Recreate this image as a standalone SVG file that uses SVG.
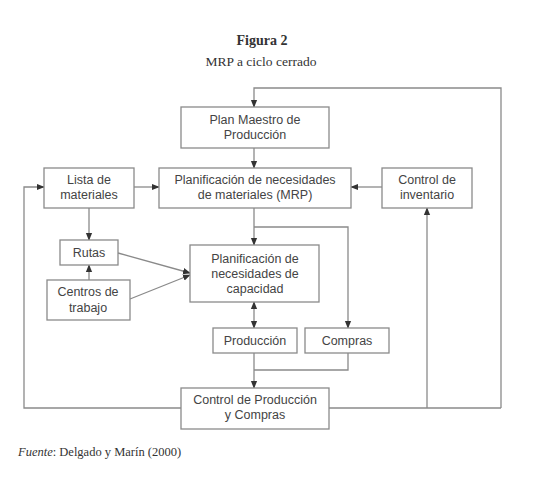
<svg xmlns="http://www.w3.org/2000/svg" width="539" height="480" viewBox="0 0 539 480">
<defs>
<style>
.box{fill:#fff;stroke:#8a8a8a;stroke-width:1.3}
.t{font-family:"Liberation Sans",Arial,sans-serif;font-size:12.5px;fill:#444;text-anchor:middle}
.c{fill:none;stroke:#8a8a8a;stroke-width:1.3}
.ser{font-family:"Liberation Serif","Times New Roman",serif;fill:#333}
</style>
<marker id="a" viewBox="0 0 10 10" refX="9" refY="5" markerWidth="6" markerHeight="6" orient="auto-start-reverse">
<path d="M0,1 L10,5 L0,9 z" fill="#333"/>
</marker>
</defs>
<rect width="539" height="480" fill="#fff"/>
<text class="ser" x="262" y="45" font-size="14" font-weight="bold" text-anchor="middle">Figura 2</text>
<text class="ser" x="261" y="66" font-size="13.5" text-anchor="middle">MRP a ciclo cerrado</text>
<g id="connectors">
<path class="c" d="M501,408 V88 H254 V107" marker-end="url(#a)"/>
<path class="c" d="M254,148 V168" marker-end="url(#a)"/>
<path class="c" d="M134,187 H159" marker-end="url(#a)"/>
<path class="c" d="M382,187 H351" marker-end="url(#a)"/>
<path class="c" d="M254,208 V245" marker-end="url(#a)"/>
<path class="c" d="M254,227 H348 V328" marker-end="url(#a)"/>
<path class="c" d="M89,208 V240" marker-end="url(#a)"/>
<path class="c" d="M89,280 V265" marker-end="url(#a)"/>
<path class="c" d="M118,253 L190,273" marker-end="url(#a)"/>
<path class="c" d="M130,299 L190,275" marker-end="url(#a)"/>
<path class="c" d="M254,302 V328" marker-start="url(#a)" marker-end="url(#a)"/>
<path class="c" d="M254,353 V388" marker-end="url(#a)"/>
<path class="c" d="M348,353 V370 H254"/>
<path class="c" d="M181,408 H24 V187 H44" marker-end="url(#a)"/>
<path class="c" d="M329,408 H501"/>
<path class="c" d="M427,408 V208" marker-end="url(#a)"/>
</g>
<g id="plan-maestro">
<rect class="box" x="181" y="107" width="148" height="41"/>
<text class="t" x="255" y="124">Plan Maestro de</text>
<text class="t" x="255" y="139">Producción</text>
</g>
<g id="lista-materiales">
<rect class="box" x="44" y="168" width="90" height="40"/>
<text class="t" x="89" y="184">Lista de</text>
<text class="t" x="89" y="199">materiales</text>
</g>
<g id="mrp">
<rect class="box" x="159" y="168" width="192" height="40"/>
<text class="t" x="255" y="184">Planificación de necesidades</text>
<text class="t" x="255" y="199">de materiales (MRP)</text>
</g>
<g id="control-inventario">
<rect class="box" x="382" y="168" width="90" height="40"/>
<text class="t" x="427" y="184">Control de</text>
<text class="t" x="427" y="199">inventario</text>
</g>
<g id="rutas">
<rect class="box" x="60" y="240" width="58" height="25"/>
<text class="t" x="89" y="257">Rutas</text>
</g>
<g id="centros-trabajo">
<rect class="box" x="47" y="280" width="83" height="40"/>
<text class="t" x="88" y="296">Centros de</text>
<text class="t" x="88" y="312">trabajo</text>
</g>
<g id="capacidad">
<rect class="box" x="190" y="245" width="129" height="57"/>
<text class="t" x="255" y="263">Planificación de</text>
<text class="t" x="255" y="278">necesidades de</text>
<text class="t" x="255" y="293">capacidad</text>
</g>
<g id="produccion">
<rect class="box" x="213" y="328" width="84" height="25"/>
<text class="t" x="255" y="345">Producción</text>
</g>
<g id="compras">
<rect class="box" x="305" y="328" width="84" height="25"/>
<text class="t" x="347" y="345">Compras</text>
</g>
<g id="control-produccion">
<rect class="box" x="181" y="388" width="148" height="41"/>
<text class="t" x="255" y="404">Control de Producción</text>
<text class="t" x="255" y="419">y Compras</text>
</g>
<text class="ser" x="18" y="456" font-size="12.5"><tspan font-style="italic">Fuente</tspan>: Delgado y Marín (2000)</text>
</svg>
